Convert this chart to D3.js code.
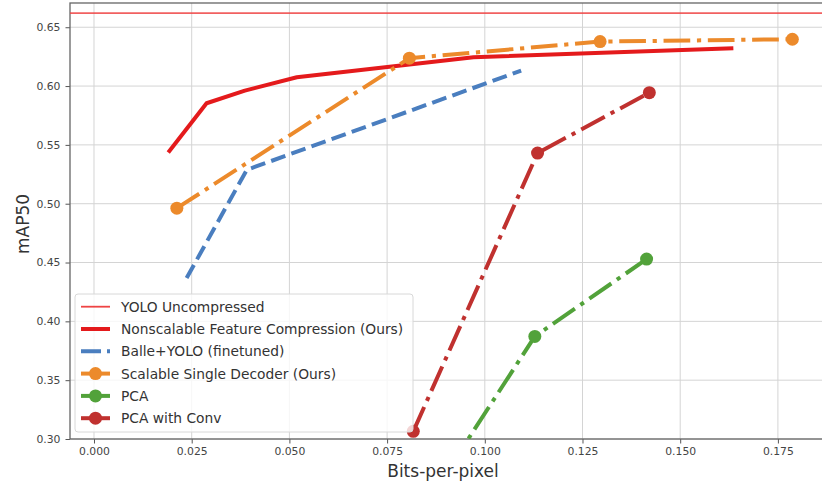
<!DOCTYPE html>
<html>
<head>
<meta charset="utf-8">
<script src="https://cdn.jsdelivr.net/npm/d3@7"></script>
<style>
  body { margin: 0; background: #fff; }
  svg { font-family: "DejaVu Sans", sans-serif; }
</style>
</head>
<body>
<script>
// tick values
const xTicks = [0, 0.025, 0.05, 0.075, 0.1, 0.125, 0.15, 0.175];
const yTicks = [0.30, 0.35, 0.40, 0.45, 0.50, 0.55, 0.60, 0.65];

// series (x = bits per pixel, y = mAP50)
const yoloUncompressed = 0.662;

const nonscalableX = [0.0190, 0.0288, 0.0386, 0.0519, 0.0971, 0.1636];
const nonscalableY = [0.5435, 0.5854, 0.5961, 0.6075, 0.6245, 0.6322];

const balleX = [0.0237, 0.0391, 0.1093];
const balleY = [0.4368, 0.5288, 0.6131];

const scalableX = [0.0212, 0.0807, 0.1295, 0.1787];
const scalableY = [0.4962, 0.6237, 0.6378, 0.6398];

const pcaX = [0.085, 0.1128, 0.1414];
const pcaY = [0.245, 0.3872, 0.4529];

const pcaConvX = [0.0817, 0.1135, 0.1421];
const pcaConvY = [0.3065, 0.5430, 0.5944];

const legendLabels = [
    "YOLO Uncompressed",
    "Nonscalable Feature Compression (Ours)",
    "Balle+YOLO (finetuned)",
    "Scalable Single Decoder (Ours)",
    "PCA",
    "PCA with Conv"
];

const W = 822, H = 485;
const margin = { top: 3, right: -1, bottom: 46, left: 70 };
const width = W - margin.left - margin.right;
const height = H - margin.top - margin.bottom;

const svg = d3.select("body").append("svg")
    .attr("width", W)
    .attr("height", H);

const g = svg.append("g")
    .attr("transform", "translate(" + margin.left + "," + margin.top + ")");

const x = d3.scaleLinear()
    .domain([-0.00614, 0.18654])
    .range([0, width]);

const y = d3.scaleLinear()
    .domain([0.30, 0.6706])
    .range([height, 0]);

// grid
g.append("g").selectAll("line").data(xTicks).join("line")
    .attr("x1", d => x(d)).attr("x2", d => x(d))
    .attr("y1", 0).attr("y2", height)
    .attr("stroke", "#d4d4d4").attr("stroke-width", 1);

g.append("g").selectAll("line").data(yTicks).join("line")
    .attr("x1", 0).attr("x2", width)
    .attr("y1", d => y(d)).attr("y2", d => y(d))
    .attr("stroke", "#d4d4d4").attr("stroke-width", 1);

// axes
const xAxis = g.append("g")
    .attr("transform", "translate(0," + height + ")")
    .call(d3.axisBottom(x).tickValues(xTicks).tickFormat(d3.format(".3f")).tickSize(4.5).tickPadding(4));

const yAxis = g.append("g")
    .call(d3.axisLeft(y).tickValues(yTicks).tickFormat(d3.format(".2f")).tickSize(4.5).tickPadding(5));

[xAxis, yAxis].forEach(a => {
    a.select(".domain").remove();
    a.selectAll(".tick line").attr("stroke", "#555");
    a.selectAll("text").attr("fill", "#444").style("font-size", "10.8px").style("font-family", "DejaVu Sans");
});

// frame
g.append("rect")
    .attr("x", 0).attr("y", 0)
    .attr("width", width).attr("height", height)
    .attr("fill", "none").attr("stroke", "#666").attr("stroke-width", 1.3);

g.append("clipPath").attr("id", "clip")
    .append("rect").attr("width", width).attr("height", height);

const plot = g.append("g").attr("clip-path", "url(#clip)");

const line = d3.line().x(d => x(d[0])).y(d => y(d[1]));

const dashed = "15,6.4";
const dashDot = "26.7,6.7,4.2,6.7";

const series = [
    { xs: nonscalableX, ys: nonscalableY, color: "#e41a1c", dash: null, marker: false },
    { xs: balleX, ys: balleY, color: "#4a7ebf", dash: dashed, marker: false },
    { xs: scalableX, ys: scalableY, color: "#ec8a2b", dash: dashDot, marker: true },
    { xs: pcaX, ys: pcaY, color: "#52a23a", dash: dashDot, marker: true },
    { xs: pcaConvX, ys: pcaConvY, color: "#c0312f", dash: dashDot, marker: true }
];

// YOLO uncompressed reference line
plot.append("line")
    .attr("x1", 0).attr("x2", width)
    .attr("y1", y(yoloUncompressed)).attr("y2", y(yoloUncompressed))
    .attr("stroke", "#ee4444").attr("stroke-opacity", 0.85).attr("stroke-width", 1.8);

series.forEach(s => {
    const pts = s.xs.map((v, i) => [v, s.ys[i]]);
    plot.append("path")
        .attr("d", line(pts))
        .attr("fill", "none")
        .attr("stroke", s.color)
        .attr("stroke-width", 4)
        .attr("stroke-dasharray", s.dash)
        .attr("stroke-linejoin", "round");
    if (s.marker) {
        plot.append("g").selectAll("circle").data(pts).join("circle")
            .attr("cx", d => x(d[0])).attr("cy", d => y(d[1]))
            .attr("r", 6.5).attr("fill", s.color);
    }
});

// axis titles
svg.append("text")
    .attr("x", 443).attr("y", 477)
    .attr("text-anchor", "middle")
    .attr("fill", "#333")
    .style("font-size", "17px")
    .text("Bits-per-pixel");

svg.append("text")
    .attr("transform", "translate(29,224) rotate(-90)")
    .attr("text-anchor", "middle")
    .attr("fill", "#333")
    .style("font-size", "17px")
    .text("mAP50");

// legend
const lg = svg.append("g").attr("transform", "translate(75,294)");
lg.append("rect")
    .attr("width", 338).attr("height", 138)
    .attr("rx", 3)
    .attr("fill", "#fff").attr("fill-opacity", 0.8)
    .attr("stroke", "#d8d8d8").attr("stroke-width", 1);

const legendItems = [
    { color: "#ee4444", width: 1.8, dash: null, marker: false },
    { color: "#e41a1c", width: 4, dash: null, marker: false },
    { color: "#4a7ebf", width: 4, dash: "20,6,3,20", marker: false },
    { color: "#ec8a2b", width: 4, dash: null, marker: true },
    { color: "#52a23a", width: 4, dash: null, marker: true },
    { color: "#c0312f", width: 4, dash: null, marker: true }
];

legendItems.forEach((it, i) => {
    const cy = 12.7 + i * 22.3;
    lg.append("line")
        .attr("x1", 6).attr("x2", 35)
        .attr("y1", cy).attr("y2", cy)
        .attr("stroke", it.color).attr("stroke-width", it.width)
        .attr("stroke-dasharray", it.dash);
    if (it.marker) {
        lg.append("circle").attr("cx", 20.5).attr("cy", cy).attr("r", 6.5).attr("fill", it.color);
    }
    lg.append("text")
        .attr("x", 46).attr("y", cy)
        .attr("dy", "0.36em")
        .attr("fill", "#333")
        .style("font-size", "13.8px")
        .text(legendLabels[i]);
});
</script>
</body>
</html>
